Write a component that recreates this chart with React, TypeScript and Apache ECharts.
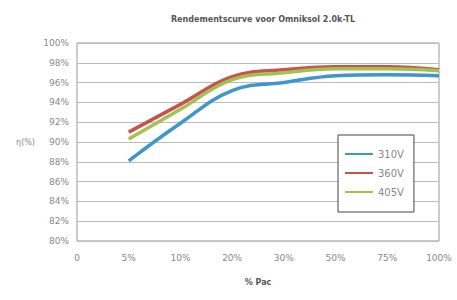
import React, { useEffect, useRef } from "react";
import * as echarts from "echarts";

const categories = ["0", "5%", "10%", "20%", "30%", "50%", "75%", "100%"];
const yTicks = [80, 82, 84, 86, 88, 90, 92, 94, 96, 98, 100];
const s310 = [null, 88.1, 91.9, 95.2, 96.0, 96.7, 96.8, 96.7];
const s360 = [null, 91.0, 93.8, 96.6, 97.3, 97.6, 97.6, 97.3];
const s405 = [null, 90.3, 93.3, 96.3, 97.0, 97.4, 97.4, 97.2];
const seriesNames = ["310V", "360V", "405V"];
const colors = ["#3f95cc", "#c9524a", "#a3c14f"];

export default function App() {
  const ref = useRef<HTMLDivElement>(null);
  useEffect(() => {
    const chart = echarts.init(ref.current!, null, { renderer: "svg" });
    const datasets = [s310, s360, s405];
    chart.setOption({
      animation: false,
      textStyle: { fontFamily: "DejaVu Sans" },
      title: {
        text: "Rendementscurve voor Omniksol 2.0k-TL",
        left: 258,
        textAlign: "center",
        top: 10,
        textStyle: { fontSize: 8, fontWeight: "bold", color: "#555" },
      },
      grid: { left: 77, right: 18, top: 43, bottom: 59, show: true, borderColor: "#999", borderWidth: 1 },
      legend: {
        orient: "vertical",
        left: 338,
        top: 135,
        itemWidth: 28,
        itemHeight: 2,
        itemGap: 9,
        padding: [14, 10, 15, 7],
        borderColor: "#444",
        borderWidth: 1,
        backgroundColor: "#fff",
        icon: "rect",
        textStyle: { fontSize: 10, color: "#888" },
        data: seriesNames,
      },
      xAxis: {
        type: "category",
        data: categories,
        boundaryGap: false,
        name: "% Pac",
        nameLocation: "middle",
        nameGap: 37,
        nameTextStyle: { fontSize: 8, color: "#555", fontWeight: "bold" },
        axisLine: { show: false },
        axisTick: { show: false },
        axisLabel: { fontSize: 9, color: "#888", margin: 12, interval: 0 },
        splitLine: { show: false },
      },
      yAxis: {
        type: "value",
        min: 80,
        max: 100,
        interval: 2,
        name: "η(%)",
        nameLocation: "middle",
        nameRotate: 0,
        nameGap: 42,
        nameTextStyle: { fontSize: 8, color: "#888", padding: [0, 0, 8, 0] },
        axisLine: { show: false },
        axisTick: { show: false },
        axisLabel: { fontSize: 9, color: "#888", margin: 8, formatter: (v: number) => yTicks.includes(v) ? v + "%" : "" },
        splitLine: { lineStyle: { color: "#bbb", width: 1 } },
      },
      series: datasets.map((d, i) => ({
        name: seriesNames[i],
        type: "line",
        data: d,
        smooth: 0.4,
        showSymbol: false,
        symbol: "none",
        lineStyle: { width: 3.5, color: colors[i] },
        itemStyle: { color: colors[i] },
      })),
    });
    return () => chart.dispose();
  }, []);
  return <div ref={ref} style={{ width: 457, height: 300, position: "absolute", left: 0, top: 0 }} />;
}
